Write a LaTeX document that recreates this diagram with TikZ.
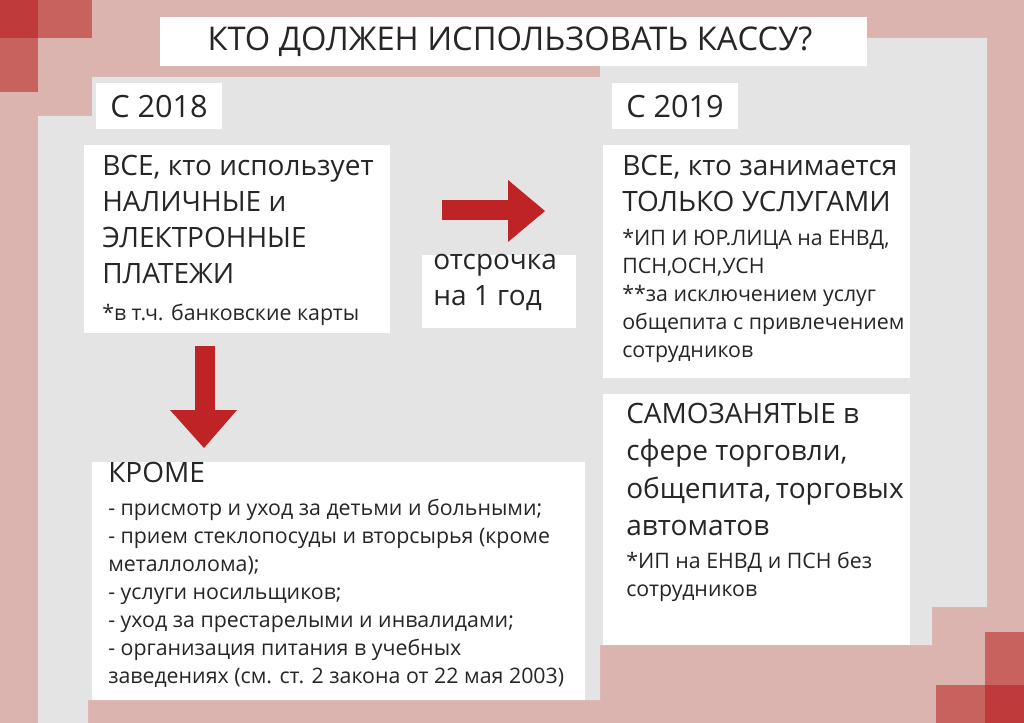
\documentclass[tikz,border=0pt]{standalone}
\usepackage{fontspec}
\setmainfont{Open Sans}
\definecolor{pinkbg}{HTML}{DBB3AF}
\definecolor{graybg}{HTML}{E4E4E4}
\definecolor{dred}{HTML}{BF3A3A}
\definecolor{mred}{HTML}{C8625F}
\definecolor{arr}{HTML}{BE2326}
\definecolor{txt}{HTML}{262626}
\begin{document}
\begin{tikzpicture}[x=0.75pt,y=-0.75pt,
  wbox/.style={fill=white,draw=none},
  big/.style={font=\fontsize{21}{27}\selectfont,text=txt,align=left,anchor=north west,inner sep=0pt},
  small/.style={font=\fontsize{16}{21}\selectfont,text=txt,align=left,anchor=north west,inner sep=0pt}]
\fill[pinkbg] (0,0) rectangle (1024,723);
\useasboundingbox (0,0) rectangle (1024,723);
\fill[graybg] (38,723)--(38,116)--(92,116)--(92,77)--(600,77)--(600,38)--(987,38)--(987,607)--(932,607)--(932,645)--(600,645)--(600,700)--(88,700)--(88,723)--cycle;
\fill[dred] (0,0) rectangle (38,38);
\fill[mred] (38,0) rectangle (92,38);
\fill[mred] (0,38) rectangle (38,92);
\fill[dred] (985,685) rectangle (1024,723);
\fill[mred] (985,632) rectangle (1024,685);
\fill[mred] (936,685) rectangle (985,723);
% title
\fill[wbox] (160,17) rectangle (867,66);
\node[font=\fontsize{24.5}{27}\selectfont,text=txt] (title) at (510,42) {КТО ДОЛЖЕН ИСПОЛЬЗОВАТЬ КАССУ?};
\fill[wbox] (96,83) rectangle (222,129);
\node[font=\fontsize{23}{27}\selectfont,text=txt] (y18) at (159,107) {С 2018};
\fill[wbox] (612,83) rectangle (738,129);
\node[font=\fontsize{23}{27}\selectfont,text=txt] (y19) at (675,107) {С 2019};
% box 1
\fill[wbox] (84,145) rectangle (390,333);
\node[big] (b1) at (102,155) {ВСЕ, кто использует\\НАЛИЧНЫЕ и\\ЭЛЕКТРОННЫЕ\\ПЛАТЕЖИ};
\node[small] (b1s) at (102,304) {*в т.ч. банковские карты};
% right arrow
\fill[arr] (442,200) rectangle (510,220);
\fill[arr] (508,180) -- (545,211) -- (508,242) -- cycle;
\fill[wbox] (422,255) rectangle (576,328);
\node[big] (ots) at (433,254) {отсрочка\\на 1 год};
% box right 1
\fill[wbox] (603,145) rectangle (910,378);
\node[big] (b2) at (622,155) {ВСЕ, кто занимается\\ТОЛЬКО УСЛУГАМИ};
\node[small] (b2s) at (622,229) {*ИП И ЮР.ЛИЦА на ЕНВД,\\ПСН,ОСН,УСН\\**за исключением услуг\\общепита с привлечением\\сотрудников};
% down arrow
\fill[arr] (195,346) rectangle (215,412);
\fill[arr] (170,410) -- (237,410) -- (204,448) -- cycle;
% krome
\fill[wbox] (92,462) rectangle (585,700);
\node[big] (kr) at (108,462) {КРОМЕ};
\node[small] (krs) at (108,499) {- присмотр и уход за детьми и больными;\\- прием стеклопосуды и вторсырья (кроме\\металлолома);\\- услуги носильщиков;\\- уход за престарелыми и инвалидами;\\- организация питания в учебных\\заведениях (см. ст. 2 закона от 22 мая 2003)};
% box right 2
\fill[wbox] (603,394) rectangle (910,645);
\node[big,font=\fontsize{21}{28}\selectfont] (b3) at (626,403) {САМОЗАНЯТЫЕ в\\сфере торговли,\\общепита,\,торговых\\автоматов};
\node[small] (b3s) at (626,552) {*ИП на ЕНВД и ПСН без\\сотрудников};
\end{tikzpicture}
\end{document}
